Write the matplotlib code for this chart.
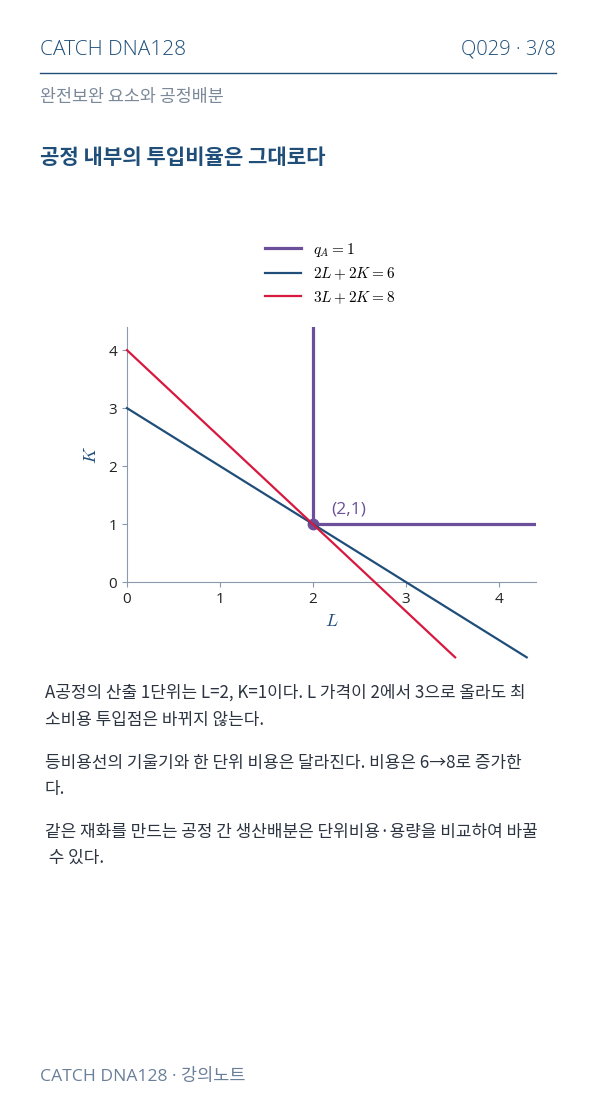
import matplotlib.pyplot as plt

plt.rcParams['font.family'] = ['Open Sans', 'Noto Sans CJK KR', 'DejaVu Sans']
plt.rcParams['mathtext.fontset'] = 'cm'

# data
l_iso = [2, 2, 4.4]
k_iso = [4.4, 1, 1]
l_cost6 = [0, 4.3]
k_cost6 = [3, -1.3]
l_cost8 = [0, 3.53]
k_cost8 = [4, -1.3]
point_l, point_k = 2, 1
ticks = [0, 1, 2, 3, 4]

purple = '#6b4f9a'
blue = '#1f4e79'
red = '#d7193f'
grey_axis = '#8a99ab'

fig = plt.figure(figsize=(5.96, 11.06), dpi=100)

# header
fig.text(40/596, 1-50/1106, 'CATCH DNA128', fontsize=15, color=blue, va='center', ha='left',
         fontweight='light')
fig.text(556/596, 1-50/1106, 'Q029 · 3/8', fontsize=14.5, color=blue, va='center', ha='right',
         fontweight='light')
fig.add_artist(plt.Line2D([40/596, 556/596], [1-73/1106, 1-73/1106], color=blue, lw=1))
fig.text(40/596, 1-97/1106, '완전보완 요소와 공정배분', fontsize=12.5, color='#7a8899',
         va='center', ha='left', family=['Noto Sans CJK KR'])
fig.text(40/596, 1-157/1106, '공정 내부의 투입비율은 그대로다', fontsize=15.2, color=blue,
         fontweight='bold', va='center', ha='left', family=['Noto Sans CJK KR'])

ax = fig.add_axes([127/596, 1-582/1106, 409/596, 255/1106])
ax.plot(l_iso, k_iso, color=purple, lw=2.3, label=r'$q_A = 1$', zorder=3)
ax.plot(l_cost6, k_cost6, color=blue, lw=1.6, label=r'$2L + 2K = 6$', clip_on=False, zorder=4)
ax.plot(l_cost8, k_cost8, color=red, lw=1.6, label=r'$3L + 2K = 8$', clip_on=False, zorder=4)
ax.plot([point_l], [point_k], 'o', color=purple, ms=7.5, zorder=3)
ax.annotate('(2,1)', (point_l, point_k), xytext=(13, 5), textcoords='offset points',
            color=purple, fontsize=12.5, ha='left', va='bottom')

ax.set_xlim(0, 4.4)
ax.set_ylim(0, 4.4)
ax.set_xticks(ticks)
ax.set_yticks(ticks)
for s in ['top', 'right']:
    ax.spines[s].set_visible(False)
for s in ['left', 'bottom']:
    ax.spines[s].set_color(grey_axis)
ax.tick_params(colors=grey_axis, labelcolor='#222222', labelsize=11)
ax.set_xlabel(r'$L$', color=blue, fontsize=13, labelpad=4)
ax.set_ylabel(r'$K$', color=blue, fontsize=13, labelpad=6)

ax.legend(loc='upper center', bbox_to_anchor=(330/596, 1-227/1106), bbox_transform=fig.transFigure,
          frameon=False, fontsize=11, handlelength=2.4, labelspacing=0.45)

body = [
    ('A공정의 산출 1단위는 L=2, K=1이다. L 가격이 2에서 3으로 올라도 최', 693),
    ('소비용 투입점은 바뀌지 않는다.', 720),
    ('등비용선의 기울기와 한 단위 비용은 달라진다. 비용은 6→8로 증가한', 763),
    ('다.', 789),
    ('같은 재화를 만드는 공정 간 생산배분은 단위비용·용량을 비교하여 바꿀', 832),
    (' 수 있다.', 858),
]
for txt, y in body:
    fig.text(45/596, 1-y/1106, txt, fontsize=12.2, color='#2b3440', va='center', ha='left',
             family=['Noto Sans CJK KR', 'DejaVu Sans'])

fig.text(40/596, 1-1077/1106, 'CATCH DNA128 · 강의노트', fontsize=12.6, color='#6a7f99',
         va='center', ha='left', family=['Open Sans', 'Noto Sans CJK KR'])

fig.savefig('out.png', dpi=100)
